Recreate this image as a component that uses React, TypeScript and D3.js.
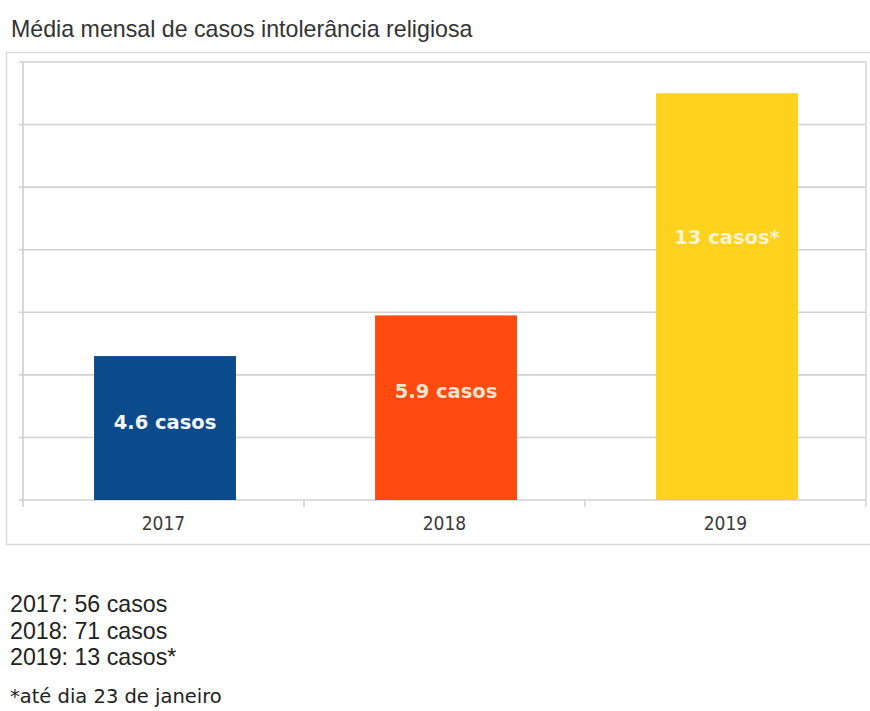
import React from "react";
import * as d3 from "d3";

const categories = ["2017", "2018", "2019"];
const values = [4.6, 5.9, 13];
const barLabels = ["4.6 casos", "5.9 casos", "13 casos*"];
const labelLevels = [2.5, 3.5, 8.4];
const colors = ["#0b4a8b", "#fd4a0e", "#fcd21f"];
const yTicks = [0, 2, 4, 6, 8, 10, 12, 14];
const title = "Média mensal de casos intolerância religiosa";
const notes = ["2017: 56 casos", "2018: 71 casos", "2019: 13 casos*"];
const footnote = "*até dia 23 de janeiro";

const W = 870;
const H = 711;
const plot = { left: 23, right: 866, top: 62, bottom: 500 };

export default function App() {
  const x = d3
    .scaleBand<string>()
    .domain(categories)
    .range([plot.left + 1.5, plot.right + 1.5])
    .paddingInner(0.495)
    .paddingOuter(0.2475);
  const xb = d3.scaleBand<string>().domain(categories).range([plot.left, plot.right]).padding(0);
  const y = d3.scaleLinear().domain([0, 14]).range([plot.bottom, plot.top]);

  return (
    <svg
      width={W}
      height={H}
      style={{ position: "absolute", left: 0, top: 0, background: "#fff" }}
    >
      <rect x={0} y={0} width={W} height={H} fill="#fff" />
      <text
        x={11}
        y={37}
        fontFamily="'Liberation Sans', Arial, sans-serif"
        fontSize={23.2}
        fill="#333"
      >
        {title}
      </text>
      {/* outer frame */}
      <rect x={6.5} y={52.5} width={880} height={492} fill="none" stroke="#dcdcdc" strokeWidth={1.5} />
      {/* gridlines */}
      {yTicks.map((t) => (
        <g key={t}>
          <line x1={plot.left} x2={plot.right} y1={y(t)} y2={y(t)} stroke="#d2d2d2" strokeWidth={1.6} />
          <line x1={plot.left - 4} x2={plot.left} y1={y(t)} y2={y(t)} stroke="#d2d2d2" strokeWidth={1.6} />
        </g>
      ))}
      {/* left axis and right border */}
      <line x1={plot.left} x2={plot.left} y1={plot.top} y2={plot.bottom + 7} stroke="#cfcfcf" strokeWidth={1.6} />
      <line x1={plot.right} x2={plot.right} y1={plot.top} y2={plot.bottom + 7} stroke="#d8d8d8" strokeWidth={1.6} />
      {/* category ticks */}
      {categories.slice(1).map((c) => (
        <line
          key={c}
          x1={xb(c)!}
          x2={xb(c)!}
          y1={plot.bottom}
          y2={plot.bottom + 7}
          stroke="#d2d2d2"
          strokeWidth={1.6}
        />
      ))}
      {/* bars */}
      {categories.map((c, i) => (
        <rect
          key={c}
          x={x(c)!}
          y={y(values[i])}
          width={x.bandwidth()}
          height={y(0) - y(values[i])}
          fill={colors[i]}
        />
      ))}
      {/* bar labels */}
      {categories.map((c, i) => (
        <text
          key={c}
          x={x(c)! + x.bandwidth() / 2}
          y={y(labelLevels[i])}
          dy="0.36em"
          textAnchor="middle"
          fontFamily="'DejaVu Sans', Verdana, sans-serif"
          fontWeight="bold"
          fontSize={19.5}
          fill={i === 0 ? "#f4f7fb" : i === 1 ? "#fde3cc" : "#fdf3d0"}
        >
          {barLabels[i]}
        </text>
      ))}
      {/* x labels */}
      {categories.map((c) => (
        <text
          key={c}
          x={xb(c)! + xb.bandwidth() / 2}
          y={530}
          textAnchor="middle"
          fontFamily="'Liberation Sans Narrow', 'DejaVu Sans Condensed', sans-serif"
          fontSize={19}
          fill="#3a3a3a"
        >
          {c}
        </text>
      ))}
      {/* notes */}
      {notes.map((n, i) => (
        <text
          key={n}
          x={10}
          y={612 + i * 26.5}
          fontFamily="'Liberation Sans', Arial, sans-serif"
          fontSize={23.2}
          fill="#222"
        >
          {n}
        </text>
      ))}
      <text
        x={10}
        y={703}
        fontFamily="'DejaVu Sans', Verdana, sans-serif"
        fontSize={19.5}
        fill="#222"
      >
        {footnote}
      </text>
    </svg>
  );
}
